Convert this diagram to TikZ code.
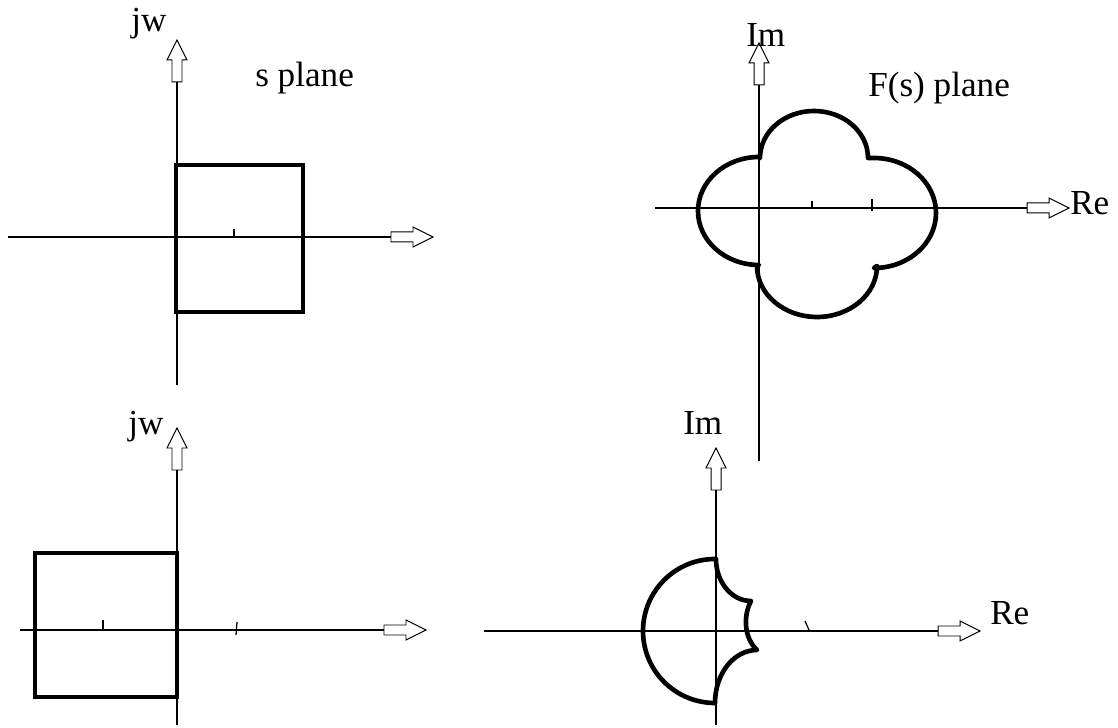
\documentclass[tikz,border=0pt]{standalone}
\usepackage{fontspec}
\setmainfont{Liberation Serif}
\begin{document}
\begin{tikzpicture}[x=0.025cm,y=0.025cm,
  axis/.style={line width=0.9pt},
  contour/.style={line width=3.3pt,line join=round},
  lbl/.style={anchor=base west,inner sep=0pt,font=\fontsize{25}{30}\selectfont},
  openarrow/.pic={\draw[line width=0.7pt,fill=white] (0,0) -- (-20,10) -- (-20,5) -- (-42,5) -- (-42,-5) -- (-20,-5) -- (-20,-10) -- cycle;}]
\useasboundingbox (0,0) rectangle (1118,728);

% s plane, top left
\coordinate (sx0) at (8,491);
\coordinate (sx1) at (433,491);
\coordinate (sy0) at (177,343);
\coordinate (sy1) at (177,688);
\draw[axis] (sx0) -- (sx1);
\draw[axis] (sy0) -- (sy1);
\pic at (sx1) {openarrow};
\pic[rotate=90] at (sy1) {openarrow};
\draw[axis] (234,491) -- (234,499);
\draw[contour,line join=miter] (176,416) rectangle (303,563);
\node[lbl] (sjw) at (131,696) {jw};
\node[lbl] (stitle) at (255,641) {s plane};

% F(s) plane, top right
\coordinate (fx0) at (655,520);
\coordinate (fx1) at (1069,520);
\coordinate (fy0) at (759,267);
\coordinate (fy1) at (759,685);
\draw[axis] (fx0) -- (fx1);
\draw[axis] (fy0) -- (fy1);
\pic at (fx1) {openarrow};
\pic[rotate=90] at (fy1) {openarrow};
\foreach \t/\a/\b in {812/520/527,872/517/529} {
  \draw[axis] (\t,\a) -- (\t,\b);
}
\draw[contour] (760,570) arc[start angle=180,end angle=0,x radius=54,y radius=47]
  -- (874,570) arc[start angle=90,end angle=-90,x radius=62,y radius=55]
  -- (877,462) arc[start angle=0,end angle=-180,x radius=60,y radius=51]
  -- (759,463) arc[start angle=270,end angle=90,x radius=61,y radius=54]
  -- cycle;
\node[lbl] (fim) at (746,681) {Im};
\node[lbl] (ftitle) at (868,631) {F(s) plane};
\node[lbl] (fre) at (1070,513) {Re};

% s plane, bottom left
\coordinate (gx0) at (20,98);
\coordinate (gx1) at (426,98);
\coordinate (gy0) at (177,3);
\coordinate (gy1) at (177,300);
\draw[axis] (gx0) -- (gx1);
\draw[axis] (gy0) -- (gy1);
\pic at (gx1) {openarrow};
\pic[rotate=90] at (gy1) {openarrow};
\draw[axis] (103,98) -- (103,108);
\draw[axis] (237,106) -- (236,93);
\draw[contour,line join=miter] (35,31) rectangle (177,175);
\node[lbl] (gjw) at (128,293) {jw};

% F(s) plane, bottom right
\coordinate (hx0) at (484,97);
\coordinate (hx1) at (980,97);
\coordinate (hy0) at (716,3);
\coordinate (hy1) at (716,280);
\draw[axis] (hx0) -- (hx1);
\draw[axis] (hy0) -- (hy1);
\pic at (hx1) {openarrow};
\pic[rotate=90] at (hy1) {openarrow};
\draw[axis] (805,107) -- (809,98);
\draw[contour] (715,169) arc[start angle=90,end angle=270,radius=72]
  arc[start angle=180,end angle=90,x radius=42,y radius=53]
  .. controls (744,90) and (743,112) .. (751,127)
  arc[start angle=270,end angle=180,x radius=35,y radius=42]
  -- cycle;
\node[lbl] (him) at (683,293) {Im};
\node[lbl] (hre) at (990,103) {Re};
\end{tikzpicture}
\end{document}
